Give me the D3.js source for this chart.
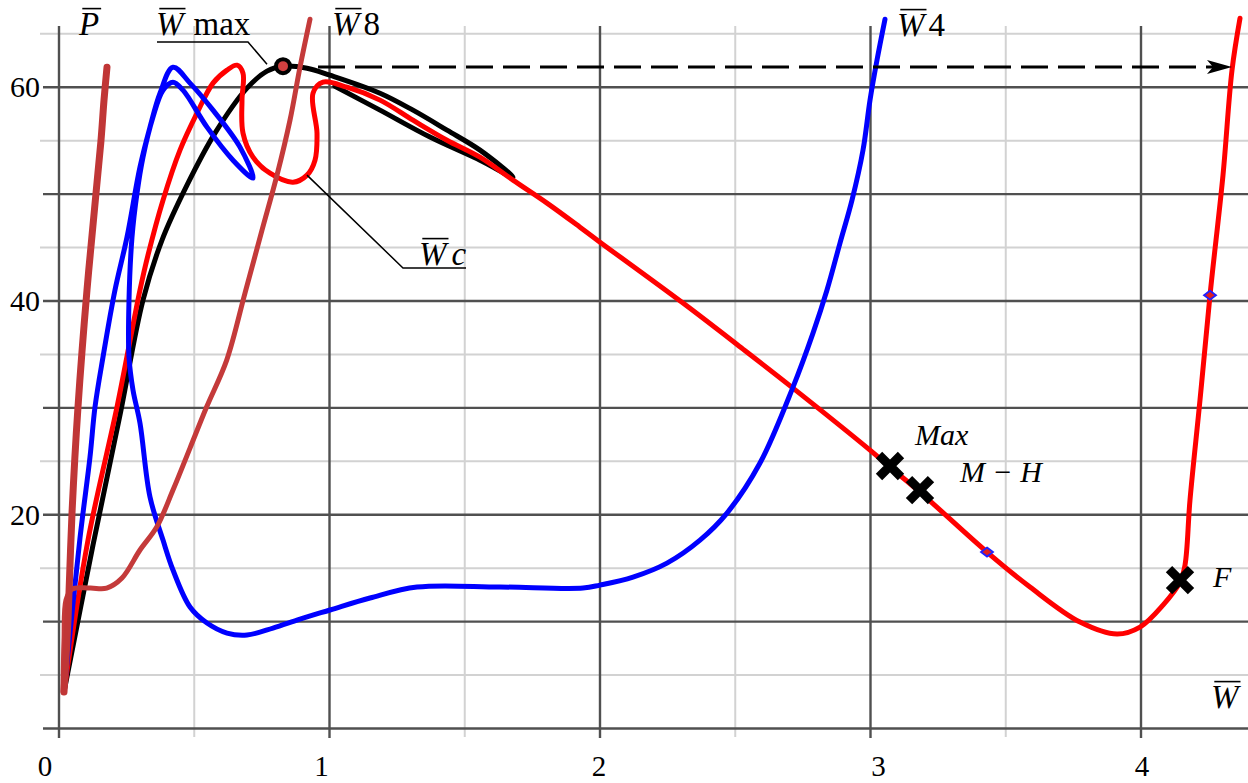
<!DOCTYPE html>
<html><head><meta charset="utf-8">
<script src="https://cdn.jsdelivr.net/npm/d3@7"></script>
<style>
body{margin:0;background:#fff}
svg{display:block}
text{font-family:"Liberation Serif","Times New Roman",Times,serif;fill:#000;white-space:pre}
</style>
</head><body>
<svg id="c" width="1248" height="783"></svg>
<script>
// ---- tick / grid values ----
const xTickLabels = [0, 1, 2, 3, 4];
const xTickDx = [-14, -8, -1, 8, 1];
const yTickLabels = [20, 40, 60];
const xMajor = [0, 1, 2, 3, 4];
const xMinor = [0.5, 1.5, 2.5, 3.5];
const yMajor = [0, 10, 20, 30, 40, 50, 60];
const yMinor = [5, 15, 25, 35, 45, 55, 65];

// ---- curves [W, P] ----
const curveP = [[0.0185,3.41],[0.0333,10.15],[0.0481,20.16],[0.0702,30.08],[0.1035,41.03],[0.1368,50.09],[0.1553,55.05],[0.1664,58.80],[0.1774,61.88]];
const curveW8 = [[0.0148,3.41],[0.0185,8.28],[0.0259,12.02],[0.0481,13.05],[0.1146,13.14],[0.1763,13.14],[0.2329,14.08],[0.2994,16.70],[0.3612,18.85],[0.4214,22.31],[0.4843,26.24],[0.5460,30.10],[0.6200,34.47],[0.6876,40.74],[0.7505,46.63],[0.8059,51.78],[0.8540,56.93],[0.8909,61.88],[0.9279,66.37]];
const curveBlack = [[0.0185,3.41],[0.1257,17.17],[0.2255,29.33],[0.3105,40.08],[0.3808,45.70],[0.4732,50.84],[0.5767,55.71],[0.6950,59.92],[0.7689,61.51],[0.8281,61.98],[0.9168,61.79],[1.0018,61.13],[1.1867,59.45],[1.3087,57.86],[1.4344,55.99],[1.5564,54.12],[1.6784,51.59],[1.5564,53.18],[1.3715,55.34],[1.1867,57.86],[1.0200,60.10]];
const curveRed = [[0.0185,3.41],[0.1072,17.63],[0.2144,30.08],[0.2994,41.03],[0.3290,44.30],[0.3845,49.44],[0.4473,54.12],[0.5102,57.58],[0.5693,60.39],[0.6211,61.61],[0.6580,62.07],[0.6802,61.32],[0.6765,58.80],[0.6802,55.71],[0.7172,53.46],[0.7800,51.96],[0.8651,51.12],[0.9168,51.78],[0.9464,53.18],[0.9538,55.71],[0.9390,59.45],[0.9760,60.48],[1.0647,60.01],[1.1867,58.80],[1.3087,56.92],[1.4344,55.05],[1.5564,53.46],[1.6784,51.31],[1.8041,49.16],[1.9261,46.91],[2.0000,45.51],[2.3068,39.81],[2.5287,35.50],[2.7135,31.85],[2.9982,26.05],[3.0721,24.46],[3.1830,22.12],[3.4307,16.51],[3.5896,13.24],[3.7745,9.96],[3.9113,8.84],[3.9963,9.49],[4.0813,11.55],[4.1442,13.70],[4.1627,15.29],[4.1811,21.37],[4.2181,30.73],[4.2551,40.55],[4.3031,51.78],[4.3364,61.60],[4.3660,66.46]];
const curveBlue = [[0.0185,3.41],[0.0776,17.82],[0.1146,25.40],[0.1331,30.08],[0.1627,34.76],[0.2070,41.03],[0.2514,45.98],[0.2994,52.53],[0.3364,56.27],[0.3734,59.45],[0.4214,61.88],[0.4843,60.39],[0.5693,57.86],[0.6691,54.40],[0.7172,51.50],[0.6433,53.18],[0.5471,56.27],[0.4584,59.73],[0.4214,60.48],[0.3845,59.73],[0.3475,57.21],[0.3105,53.46],[0.2884,50.09],[0.2699,45.98],[0.2588,40.08],[0.2588,34.76],[0.2736,31.67],[0.2994,28.58],[0.3364,21.66],[0.3845,17.63],[0.4214,14.83],[0.4843,11.37],[0.5471,9.87],[0.6211,8.93],[0.6950,8.75],[0.7911,9.40],[0.8909,10.24],[1.0018,11.09],[1.1497,12.21],[1.3235,13.24],[1.6303,13.24],[1.9372,13.14],[2.0000,13.42],[2.1220,14.17],[2.2477,15.48],[2.3697,17.63],[2.4695,20.16],[2.5915,24.84],[2.7135,31.95],[2.7874,37.00],[2.8392,41.03],[2.8872,45.42],[2.9316,49.44],[2.9723,54.12],[2.9982,58.80],[3.0240,62.54],[3.0536,66.37]];

// ---- markers ----
const wMaxPoint = [0.8281, 61.98];
const arrowEnd = [4.3364, 61.9];
const crossPoints = [[3.0721,24.56],[3.1830,22.31],[4.1442,13.89]];
const diamondPoints = [[3.4307,16.51],[4.2551,40.55]];
const wcTarget = [0.9168, 51.78];

const svg = d3.select('#c');
const x = d3.scaleLinear().domain([0,4]).range([59,1141]);
const y = d3.scaleLinear().domain([0,60]).range([728.5,87.3]);

// grid
const grid = svg.append('g');
grid.selectAll('.hmin').data(yMinor).join('line')
  .attr('x1',40).attr('x2',1248).attr('y1',d=>y(d)).attr('y2',d=>y(d))
  .attr('stroke','#d2d2d2').attr('stroke-width',2);
grid.selectAll('.vmin').data(xMinor).join('line')
  .attr('x1',d=>x(d)).attr('x2',d=>x(d)).attr('y1',26).attr('y2',737)
  .attr('stroke','#d2d2d2').attr('stroke-width',2);
grid.selectAll('.hmaj').data(yMajor).join('line')
  .attr('x1',43).attr('x2',1248).attr('y1',d=>y(d)).attr('y2',d=>y(d))
  .attr('stroke','#505050').attr('stroke-width',2.4);
grid.selectAll('.vmaj').data(xMajor).join('line')
  .attr('x1',d=>x(d)).attr('x2',d=>x(d)).attr('y1',26).attr('y2',738)
  .attr('stroke','#505050').attr('stroke-width',2.4);

// axes labels
const yAxis = d3.axisLeft(y).tickValues(yTickLabels).tickSize(0).tickPadding(6);
const ya = svg.append('g').attr('transform','translate(46,0)').call(yAxis);
ya.select('.domain').remove();
ya.selectAll('text').attr('font-size',30).attr('fill','#000');

svg.append('g').selectAll('text').data(xTickLabels).join('text')
  .attr('x',(d,i)=>x(d)+xTickDx[i]).attr('y',776).attr('text-anchor','middle')
  .attr('font-size',29).text(d=>d);

// curves
const line = d3.line().x(d=>x(d[0])).y(d=>y(d[1])).curve(d3.curveCatmullRom.alpha(0.5));
const curves = [
  {d:curveBlack, c:'#000000', w:5},
  {d:curveRed, c:'#ff0000', w:5},
  {d:curveBlue, c:'#0000ff', w:5},
  {d:curveW8, c:'#c43a3a', w:5},
  {d:curveP, c:'#c03636', w:7}
];
svg.append('g').selectAll('path').data(curves).join('path')
  .attr('d',d=>line(d.d)).attr('fill','none').attr('stroke',d=>d.c)
  .attr('stroke-width',d=>d.w).attr('stroke-linejoin','round').attr('stroke-linecap','round');

// dashed arrow
const ax0 = x(wMaxPoint[0]) + 35, ay = y(arrowEnd[1]), ax1 = x(arrowEnd[0]);
svg.append('line').attr('x1',ax0).attr('x2',ax1-19).attr('y1',ay).attr('y2',ay)
  .attr('stroke','#000').attr('stroke-width',3.2).attr('stroke-dasharray','27 10');
svg.append('path')
  .attr('d',`M${ax1},${ay} L${ax1-25},${ay-7} L${ax1-19},${ay} L${ax1-25},${ay+7} Z`)
  .attr('fill','#000');

// W max circle
const cx = x(wMaxPoint[0]), cy = y(wMaxPoint[1]);
svg.append('circle').attr('cx',cx).attr('cy',cy).attr('r',7)
  .attr('fill','#d04040').attr('stroke','#000').attr('stroke-width',4);

// crosses
svg.append('g').selectAll('path').data(crossPoints).join('path')
  .attr('transform',d=>`translate(${x(d[0])},${y(d[1])})`)
  .attr('d','M-11,-11L11,11M-11,11L11,-11')
  .attr('stroke','#000').attr('stroke-width',9).attr('fill','none');

// diamonds
svg.append('g').selectAll('path').data(diamondPoints).join('path')
  .attr('transform',d=>`translate(${x(d[0])},${y(d[1])})`)
  .attr('d','M0,-4.5L6,0L0,4.5L-6,0Z')
  .attr('fill','#e02020').attr('stroke','#2020ff').attr('stroke-width',1.8);

// labels
function label(parts, x0, base, size){
  let px = x0;
  parts.forEach(p=>{
    const t = svg.append('text').attr('x',px).attr('y',base).attr('font-size',size)
      .attr('font-style',p.it?'italic':'normal').text(p.t);
    const w = t.node().getComputedTextLength();
    if(p.bar){
      svg.append('line').attr('x1',px+size*0.1).attr('x2',px+w+size*0.06)
        .attr('y1',base-size*0.8).attr('y2',base-size*0.8)
        .attr('stroke','#000').attr('stroke-width',1.6);
    }
    px += w + (p.gap||0);
  });
}
label([{t:'P',it:1,bar:1}], 79, 35, 33);
label([{t:'W',it:1,bar:1,gap:10},{t:'max'}], 156, 35, 33);
label([{t:'W',it:1,bar:1,gap:4},{t:'8'}], 332, 35, 33);
label([{t:'W',it:1,bar:1,gap:4},{t:'4'}], 897, 36, 33);
label([{t:'W',it:1,bar:1,gap:5},{t:'c',it:1}], 419, 265, 33);
label([{t:'W',it:1,bar:1}], 1211, 708, 33);
label([{t:'Max',it:1}], 915, 445, 30);
label([{t:'M − H',it:1}], 960, 482, 30);
label([{t:'F',it:1}], 1213, 587, 30);

// leader lines
svg.append('polyline').attr('points',`157,42 248,42 ${cx-16},${cy-2}`)
  .attr('fill','none').attr('stroke','#000').attr('stroke-width',1.5);
svg.append('polyline').attr('points',`466,268 403,268 ${x(wcTarget[0])},${y(wcTarget[1])}`)
  .attr('fill','none').attr('stroke','#000').attr('stroke-width',1.5);
</script>
</body></html>
